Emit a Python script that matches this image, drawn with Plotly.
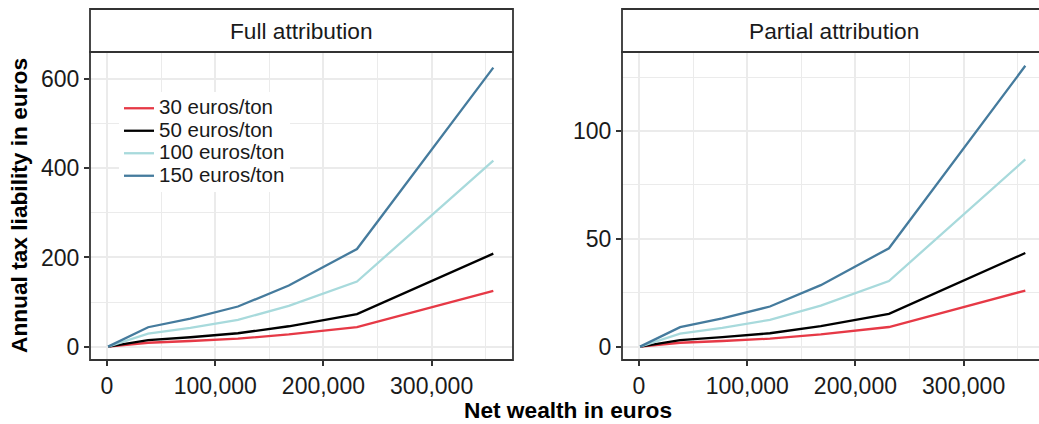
import plotly.graph_objects as go

W, H = 1039, 424

# ---- data ----
net_wealth = [1000, 38000, 77000, 121000, 168000, 231000, 357000]
series_names = ["30 euros/ton", "50 euros/ton", "100 euros/ton", "150 euros/ton"]
series_colors = ["#E63946", "#000000", "#A8DADC", "#457B9D"]

full_30 = [0, 8.7, 12.6, 18.0, 27.4, 43.8, 125.2]
full_50 = [0, 14.5, 21.0, 30.0, 45.7, 73.0, 208.7]
full_100 = [0, 29.0, 42.0, 60.0, 91.3, 146.0, 417.3]
full_150 = [0, 43.5, 63.0, 90.0, 137.0, 219.0, 626.0]

partial_30 = [0, 1.8, 2.6, 3.7, 5.7, 9.1, 26.0]
partial_50 = [0, 3.0, 4.4, 6.2, 9.5, 15.2, 43.4]
partial_100 = [0, 6.0, 8.7, 12.4, 19.0, 30.4, 86.8]
partial_150 = [0, 9.0, 13.1, 18.6, 28.5, 45.6, 130.2]

panel_titles = ["Full attribution", "Partial attribution"]
x_tickvals = [0, 100000, 200000, 300000]
x_ticktext = ["0", "100,000", "200,000", "300,000"]
x_minor = [50000, 150000, 250000, 350000]
full_y_ticks = [0, 200, 400, 600]
full_y_minor = [100, 300, 500]
partial_y_ticks = [0, 50, 100]
partial_y_minor = [25, 75, 125]

full_series = [full_30, full_50, full_100, full_150]
partial_series = [partial_30, partial_50, partial_100, partial_150]

# ---- layout geometry (pixels) ----
FONT = "Liberation Sans, Arial, sans-serif"
L1, R1 = 90, 513
L2, R2 = 622, 1045
PT, PB = 52, 360
ST = 9
GRID = "#EBEBEB"
BORDER = "#333333"
FS = 22.7

def px(x):
    return x / W

def py(y):
    return (H - y) / H

fig = go.Figure()

for name, color, ys in zip(series_names, series_colors, full_series):
    fig.add_trace(go.Scatter(x=net_wealth, y=ys, mode="lines",
                             name=f"<span style='font-size:20.5px'>{name}</span>",
                             line=dict(color=color, width=2.3),
                             xaxis="x", yaxis="y", showlegend=True))
for name, color, ys in zip(series_names, series_colors, partial_series):
    fig.add_trace(go.Scatter(x=net_wealth, y=ys, mode="lines", name=name,
                             line=dict(color=color, width=2.3),
                             xaxis="x2", yaxis="y2", showlegend=False))

scale = (R1 - L1) / 390900.0  # px per euro
x_left = -15700
x_range1 = [x_left, x_left + (R1 - L1) / scale]
x_range2 = [x_left, x_left + (W - L2) / scale]

tickfont = dict(family=FONT, size=23, color="#1A1A1A")

def xaxis(dom, rng, anchor):
    return dict(domain=dom, range=rng, tickvals=x_tickvals, ticktext=x_ticktext,
                anchor=anchor,
                showgrid=True, gridcolor=GRID, gridwidth=1.7, zeroline=False,
                ticks="outside", ticklen=5, tickwidth=1.6, tickcolor=BORDER,
                tickfont=tickfont, showline=False, automargin=False,
                minor=dict(tickvals=x_minor, showgrid=True, gridcolor=GRID,
                           gridwidth=1.2, ticks=""))

def yaxis(rng, ticks, minor, anchor):
    return dict(domain=[py(PB), py(PT)], range=rng, tickvals=ticks,
                ticktext=[str(t) for t in ticks], anchor=anchor,
                showgrid=True, gridcolor=GRID, gridwidth=1.7, zeroline=False,
                ticks="outside", ticklen=5, tickwidth=1.6, tickcolor=BORDER,
                tickfont=tickfont, showline=False, automargin=False,
                minor=dict(tickvals=minor, showgrid=True, gridcolor=GRID,
                           gridwidth=1.2, ticks=""))

shapes = []
annotations = []
for (l, r), title in zip([(L1, R1), (L2, R2)], panel_titles):
    shapes.append(dict(type="rect", xref="paper", yref="paper",
                       x0=px(l), x1=px(r), y0=py(PB), y1=py(PT),
                       line=dict(color=BORDER, width=1.8), fillcolor="rgba(0,0,0,0)",
                       layer="above"))
    shapes.append(dict(type="rect", xref="paper", yref="paper",
                       x0=px(l), x1=px(r), y0=py(PT), y1=py(ST),
                       line=dict(color=BORDER, width=1.8), fillcolor="white",
                       layer="above"))
    annotations.append(dict(text=title, xref="paper", yref="paper",
                            x=px((l + r) / 2), y=py((PT + ST) / 2),
                            xanchor="center", yanchor="middle", showarrow=False,
                            font=dict(family=FONT, size=FS, color="#1A1A1A")))

annotations.append(dict(text="<b>Net wealth in euros</b>", xref="paper", yref="paper",
                        x=px((L1 + R2) / 2), y=py(410), xanchor="center", yanchor="middle",
                        showarrow=False, font=dict(family=FONT, size=FS, color="black")))
annotations.append(dict(text="<b>Annual tax liability in euros</b>", xref="paper", yref="paper",
                        x=px(19), y=py((PT + PB) / 2), xanchor="center", yanchor="middle",
                        textangle=-90, showarrow=False,
                        font=dict(family=FONT, size=FS, color="black")))

fig.update_layout(
    width=W, height=H,
    margin=dict(l=0, r=0, t=0, b=0),
    paper_bgcolor="white", plot_bgcolor="white",
    xaxis=xaxis([px(L1), px(R1)], x_range1, "y"),
    xaxis2=xaxis([px(L2), 1.0], x_range2, "y2"),
    yaxis=yaxis([-30, 661], full_y_ticks, full_y_minor, "x"),
    yaxis2=yaxis([-6.2, 136.6], partial_y_ticks, partial_y_minor, "x2"),
    shapes=shapes, annotations=annotations,
    legend=dict(x=px(119), y=py(92), xanchor="left", yanchor="top",
                bgcolor="white", borderwidth=0,
                font=dict(family=FONT, size=15, color="#1A1A1A"),
                tracegroupgap=0, itemwidth=30),
    font=dict(family=FONT),
)

fig.write_html("out.html", config={"displayModeBar": False},
               post_script="document.body.style.margin='0';document.body.style.padding='0';")
